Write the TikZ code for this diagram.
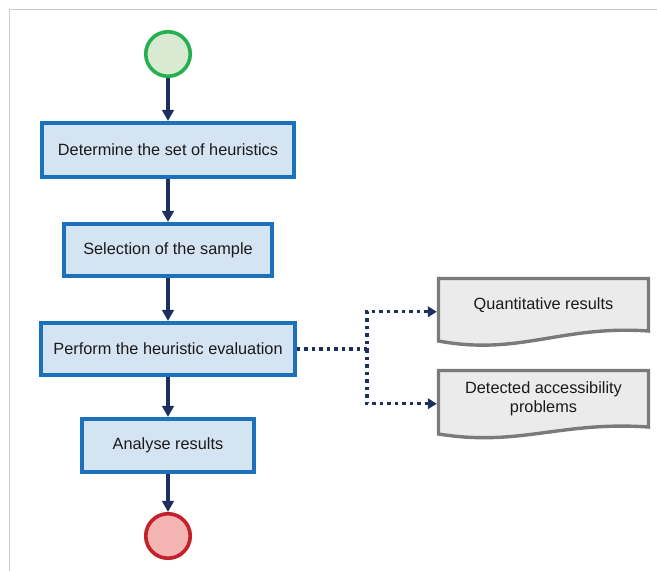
\documentclass[tikz,border=0pt]{standalone}
\usepackage{fontspec}
\setmainfont{Liberation Sans}
\usetikzlibrary{arrows.meta,backgrounds}
\definecolor{boxfill}{HTML}{D5E4F2}
\definecolor{boxline}{HTML}{1B72BA}
\definecolor{flowcol}{HTML}{1E2F5E}
\definecolor{startfill}{HTML}{D9EAD3}
\definecolor{startline}{HTML}{24B04F}
\definecolor{endfill}{HTML}{F4B5B3}
\definecolor{endline}{HTML}{C3202A}
\definecolor{docfill}{HTML}{EBEBEB}
\definecolor{docline}{HTML}{7A7A7A}
\definecolor{framecol}{HTML}{CCCCCC}
\definecolor{textcol}{HTML}{1A1A1A}
\begin{document}
\begin{tikzpicture}[x=1pt,y=-1pt,
  txt/.style={font=\fontsize{16.3pt}{18.4pt}\selectfont, text=textcol, align=center, inner sep=0pt},
  stepbox/.style={txt, draw=boxline, fill=boxfill, line width=3.6pt, rectangle},
  startnode/.style={circle, draw=startline, fill=startfill, line width=3.6pt, minimum size=44.5pt, inner sep=0pt},
  endnode/.style={circle, draw=endline, fill=endfill, line width=3.6pt, minimum size=44.5pt, inner sep=0pt},
  docnode/.style={txt, rectangle, outer sep=0pt},
  docshape/.style={draw=docline, fill=docfill, line width=3.4pt, line join=miter},
  flow/.style={draw=flowcol, line width=3.6pt, -{Triangle[length=11pt,width=11.5pt]}},
  dotflow/.style={draw=flowcol, line width=3.4pt, dash pattern=on 3.5pt off 4pt, -{Triangle[length=9pt,width=10.5pt]}, shorten >=1.7pt}
]
\useasboundingbox (0,0) rectangle (657,571);
\draw[framecol, line width=1pt] (657,9.5) -- (9.5,9.5) -- (9.5,571);

\node[startnode] (s) at (168,54) {};
\node[stepbox, minimum width=252.5pt, minimum height=54.5pt] (b1) at (168,150) {Determine the set of heuristics};
\node[stepbox, minimum width=207.5pt, minimum height=52.5pt] (b2) at (168,250) {Selection of the sample};
\node[stepbox, minimum width=253.5pt, minimum height=52.5pt] (b3) at (168,349) {Perform the heuristic evaluation};
\node[stepbox, minimum width=172.5pt, minimum height=53.5pt] (b4) at (168,445.5) {Analyse results};
\node[endnode] (e) at (168,536) {};

\node[docnode, minimum width=210pt, minimum height=52.5pt] (q) at (543.5,304.75) {Quantitative results};
\node[docnode, minimum width=210pt, minimum height=56.5pt] (d) at (543.5,398.75) {Detected accessibility\\problems};

\begin{scope}[on background layer]
\draw[docshape] (q.north west) -- (q.north east) -- (q.south east)
  .. controls +(-88,-6) and +(81,15) .. ([yshift=-10pt]q.south west) -- cycle;
\draw[docshape] (d.north west) -- (d.north east) -- (d.south east)
  .. controls +(-88,-6) and +(81,13) .. ([yshift=-7pt]d.south west) -- cycle;
\end{scope}

\draw[flow] (s) -- (b1);
\draw[flow] (b1) -- (b2);
\draw[flow] (b2) -- (b3);
\draw[flow] (b3) -- (b4);
\draw[flow] (b4) -- (e);

\coordinate (j) at (367,349);
\draw[dotflow] (b3.east) -- (j) |- ([yshift=-7pt]q.west);
\draw[dotflow] (j) |- ([yshift=-5pt]d.west);
\end{tikzpicture}
\end{document}
